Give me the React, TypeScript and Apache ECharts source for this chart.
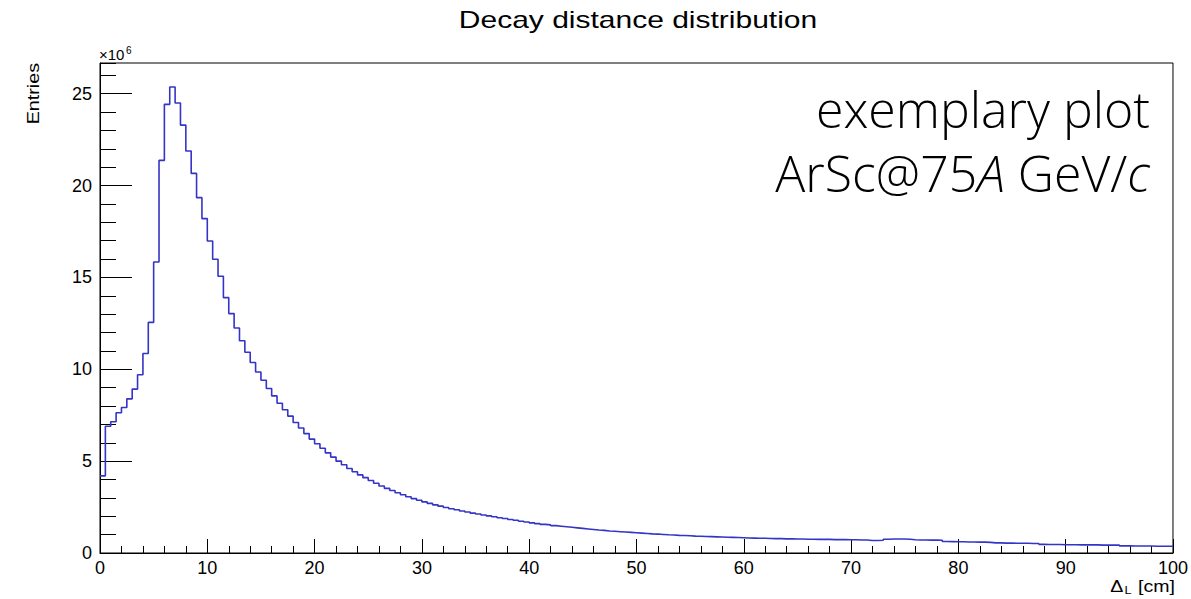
import React, { useEffect, useRef } from "react";
import * as echarts from "echarts";

// bin width 0.5 cm, values in units of 10^6 entries
const BIN_WIDTH = 0.5;
const binsA = [
  4.2, 6.9, 7.14, 7.63, 7.92, 8.39, 8.92, 9.7, 10.86, 12.55,
  15.84, 21.37, 24.42, 25.36, 24.49, 23.29, 21.88, 20.66, 19.34, 18.2,
  16.98, 15.99, 15.06, 13.9, 13.03, 12.25, 11.55, 10.93, 10.37, 9.85,
  9.4, 8.95, 8.55, 8.15, 7.8, 7.45, 7.1, 6.8, 6.5, 6.2,
  5.95, 5.7, 5.45, 5.22, 5.0, 4.8, 4.6, 4.42, 4.25, 4.1,
];
const binsB = [
  3.95, 3.8, 3.65, 3.52, 3.4, 3.28, 3.17, 3.06, 2.96, 2.87,
  2.78, 2.7, 2.62, 2.55, 2.48, 2.41, 2.35, 2.29, 2.23, 2.17,
  2.12, 2.07, 2.02, 1.97, 1.92, 1.88, 1.82, 1.78, 1.73, 1.69,
  1.64, 1.6, 1.56, 1.53, 1.49, 1.46, 1.43, 1.4, 1.37, 1.34,
  1.31, 1.28, 1.25, 1.23, 1.2, 1.18, 1.16, 1.14, 1.12, 1.1,
];
const binsC = [
  1.08, 1.06, 1.04, 1.03, 1.01, 0.99, 0.98, 0.96, 0.95, 0.94,
  0.92, 0.91, 0.9, 0.89, 0.88, 0.87, 0.86, 0.85, 0.84, 0.83,
  0.82, 0.81, 0.8, 0.8, 0.79, 0.78, 0.78, 0.77, 0.77, 0.76,
  0.76, 0.75, 0.75, 0.74, 0.74, 0.74, 0.73, 0.73, 0.73, 0.72,
  0.72, 0.71, 0.71, 0.68, 0.68, 0.69, 0.75, 0.76, 0.76, 0.76,
];
const binsD = [
  0.75, 0.72, 0.71, 0.71, 0.7, 0.7, 0.69, 0.63, 0.62, 0.61,
  0.61, 0.6, 0.6, 0.59, 0.59, 0.58, 0.55, 0.55, 0.54, 0.54,
  0.53, 0.53, 0.53, 0.52, 0.52, 0.47, 0.46, 0.46, 0.46, 0.45,
  0.45, 0.45, 0.44, 0.44, 0.44, 0.44, 0.43, 0.43, 0.43, 0.43,
  0.39, 0.39, 0.38, 0.38, 0.38, 0.38, 0.37, 0.37, 0.37, 0.37,
];
const xTickLabels = ["0", "10", "20", "30", "40", "50", "60", "70", "80", "90", "100"];
const yTickLabels = ["0", "5", "10", "15", "20", "25"];

const X_MIN = 0;
const X_MAX = 100;
const Y_MAX = 26.67;

export default function App() {
  const ref = useRef<HTMLDivElement>(null);
  useEffect(() => {
    if (!ref.current) return;
    const chart = echarts.init(ref.current, null, { renderer: "svg" });
    const bins = [...binsA, ...binsB, ...binsC, ...binsD];
    const data: number[][] = bins.map((v, i) => [X_MIN + i * BIN_WIDTH, v]);
    data.push([X_MIN + bins.length * BIN_WIDTH, bins[bins.length - 1]]);

    const axisFont = { fontFamily: "Liberation Sans", fontSize: 18, color: "#000" };

    chart.setOption({
      animation: false,
      backgroundColor: "#fff",
      grid: {
        left: 100,
        top: 63,
        width: 1075,
        height: 490,
        show: true,
        borderColor: "#000",
        borderWidth: 1,
        backgroundColor: "transparent",
      },
      xAxis: [
        {
          type: "value",
          min: X_MIN,
          max: X_MAX,
          interval: 10,
          axisLine: { show: true, lineStyle: { color: "#000", width: 1 } },
          axisTick: { show: true, inside: true, length: 14, lineStyle: { color: "#000" } },
          minorTick: { show: true, splitNumber: 5, length: 7, lineStyle: { color: "#000" } },
          splitLine: { show: false },
          axisLabel: {
            ...axisFont,
            margin: 6,
            formatter: (v: number) => xTickLabels[Math.round(v / 10)] ?? "",
          },
        },
      ],
      yAxis: [
        {
          type: "value",
          min: 0,
          max: Y_MAX,
          interval: 5,
          axisLine: { show: true, lineStyle: { color: "#000", width: 1 } },
          axisTick: { show: true, inside: true, length: 32, lineStyle: { color: "#000" } },
          splitLine: { show: false },
          axisLabel: {
            ...axisFont,
            margin: 8,
            showMaxLabel: false,
            formatter: (v: number) => {
              const k = v / 5;
              return Math.abs(k - Math.round(k)) < 1e-6 ? yTickLabels[Math.round(k)] ?? "" : "";
            },
          },
        },
        {
          type: "value",
          min: 0,
          max: Y_MAX,
          interval: 1,
          position: "left",
          axisLine: { show: false },
          axisTick: { show: true, inside: true, length: 16, lineStyle: { color: "#000" } },
          splitLine: { show: false },
          axisLabel: { show: false },
        },
      ],
      series: [
        {
          type: "line",
          step: "end",
          xAxisIndex: 0,
          yAxisIndex: 0,
          data,
          symbol: "none",
          lineStyle: { color: "#3434c6", width: 1.6 },
          silent: true,
        },
      ],
      graphic: [
        {
          type: "text",
          x: 638,
          y: 20,
          scaleX: 1.25,
          style: {
            text: "Decay distance distribution",
            fontFamily: "Liberation Sans",
            fontSize: 24,
            fill: "#000",
            align: "center",
            verticalAlign: "middle",
          },
        },
        {
          type: "text",
          x: 33,
          y: 63,
          rotation: Math.PI / 2,
          scaleX: 1.16,
          style: {
            text: "Entries",
            fontFamily: "Liberation Sans",
            fontSize: 17,
            fill: "#000",
            align: "right",
            verticalAlign: "middle",
          },
        },
        {
          type: "text",
          x: 99,
          y: 62,
          style: {
            text: "×10",
            fontFamily: "Liberation Sans",
            fontSize: 15,
            fill: "#000",
            align: "left",
            verticalAlign: "bottom",
          },
        },
        {
          type: "text",
          x: 126,
          y: 55,
          style: {
            text: "6",
            fontFamily: "Liberation Sans",
            fontSize: 10,
            fill: "#000",
            align: "left",
            verticalAlign: "bottom",
          },
        },
        {
          type: "text",
          x: 1175,
          y: 586,
          scaleX: 1.15,
          style: {
            text: "{a|Δ}{s|L}{a| [cm]}",
            align: "right",
            verticalAlign: "middle",
            rich: {
              a: { fontFamily: "Liberation Sans", fontSize: 17, color: "#000" },
              s: {
                fontFamily: "Liberation Sans",
                fontSize: 11,
                color: "#000",
                padding: [8, 1, 0, 1],
              },
            },
          },
        },
        {
          type: "text",
          x: 1150,
          y: 84,
          style: {
            text: "exemplary plot",
            fontFamily: "Open Sans",
            fontWeight: 300,
            fontSize: 50,
            fill: "#000",
            align: "right",
            verticalAlign: "top",
          },
        },
        {
          type: "text",
          x: 1150,
          y: 148,
          style: {
            text: "{n|ArSc@75}{i|A}{n| GeV/}{i|c}",
            align: "right",
            verticalAlign: "top",
            rich: {
              n: { fontFamily: "Open Sans", fontWeight: 300, fontSize: 50, color: "#000" },
              i: {
                fontFamily: "Open Sans",
                fontWeight: 300,
                fontStyle: "italic",
                fontSize: 50,
                color: "#000",
              },
            },
          },
        },
      ],
    });
    return () => chart.dispose();
  }, []);
  return (
    <div
      ref={ref}
      style={{ position: "fixed", left: 0, top: 0, width: 1191, height: 599, background: "#fff" }}
    />
  );
}
